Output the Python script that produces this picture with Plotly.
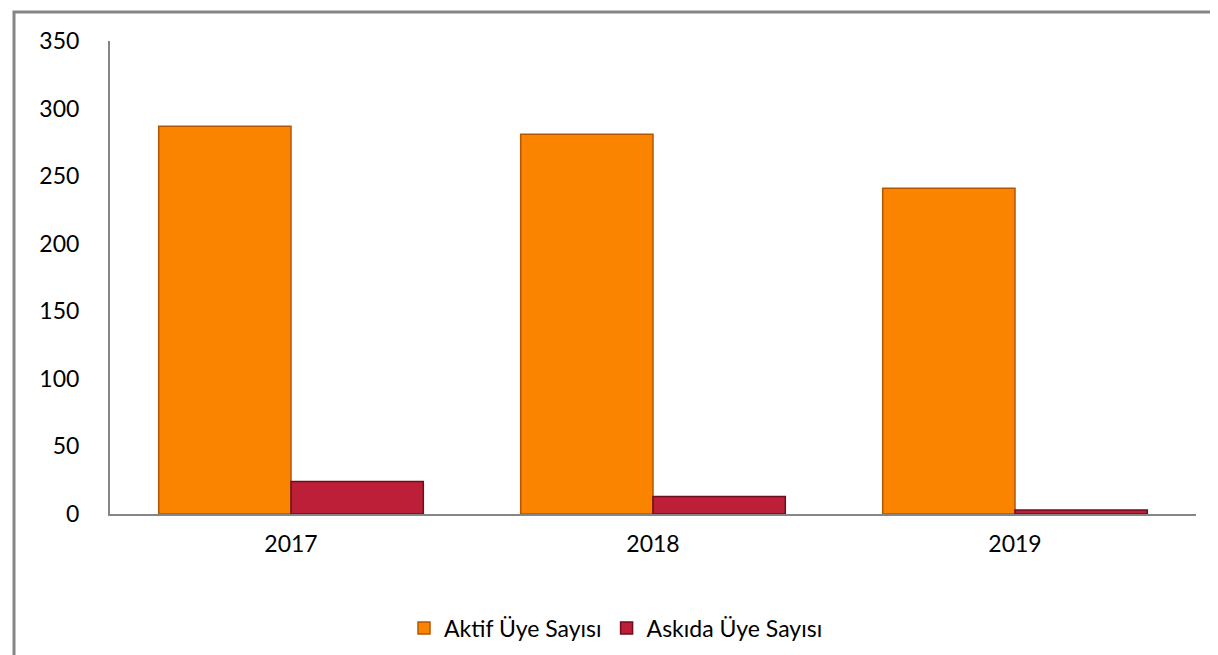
import plotly.graph_objects as go

years = ["2017", "2018", "2019"]
aktif = [287, 281, 241]
askida = [24, 13, 3]
series_names = ["Aktif Üye Sayısı", "Askıda Üye Sayısı"]
y_ticks = [0, 50, 100, 150, 200, 250, 300, 350]

W, H = 1218, 655
L, R, T, B = 102, 30, 33, 149
pw, ph = W - L - R, H - T - B

def px_x(x):
    return (x - L) / pw

def px_y(y):
    return (H - B - y) / ph

fig = go.Figure()
fig.add_trace(go.Bar(
    x=years, y=aktif, name=series_names[0],
    marker=dict(color="#FA8400", line=dict(color="#B35600", width=1.5)),
))
fig.add_trace(go.Bar(
    x=years, y=askida, name=series_names[1],
    marker=dict(color="#BC1F37", line=dict(color="#6E0E1C", width=1.5)),
))

fig.update_layout(
    width=W, height=H,
    margin=dict(l=L, r=R, t=T, b=B),
    paper_bgcolor="white", plot_bgcolor="white",
    barmode="group", bargap=0.269, bargroupgap=0,
    font=dict(family="Lato, Open Sans, sans-serif", size=23, color="#000000"),
    showlegend=True,
    legend=dict(
        orientation="h", x=px_x(608), xanchor="center",
        y=px_y(620), yanchor="middle",
        font=dict(size=23), itemwidth=30, traceorder="normal",
        bgcolor="rgba(0,0,0,0)",
    ),
    xaxis=dict(
        showline=True, linecolor="#868686", linewidth=2,
        showgrid=False, ticks="", zeroline=False,
        tickfont=dict(size=23), ticklabelstandoff=8,
    ),
    yaxis=dict(
        range=[0, 350], tickvals=y_ticks, ticktext=[str(v) for v in y_ticks],
        showline=True, linecolor="#868686", linewidth=2,
        showgrid=False, ticks="", zeroline=False,
        tickfont=dict(size=23), ticklabelstandoff=24,
    ),
    shapes=[dict(
        type="rect", xref="paper", yref="paper",
        x0=px_x(6), x1=px_x(1212), y0=px_y(651), y1=px_y(4),
        line=dict(color="#868686", width=3), fillcolor="rgba(0,0,0,0)",
        layer="below",
    )],
)

fig.write_html("out.html")
